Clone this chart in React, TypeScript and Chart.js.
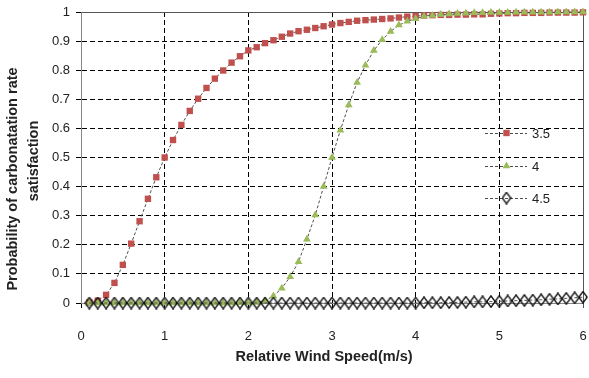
import React, { useEffect, useRef } from 'react';
import { Chart, registerables } from 'chart.js';
Chart.register(...registerables);

const windSpeeds = [
  0.1, 0.2, 0.3, 0.4, 0.5, 0.6, 0.7, 0.8, 0.9, 1.0,
  1.1, 1.2, 1.3, 1.4, 1.5, 1.6, 1.7, 1.8, 1.9, 2.0,
  2.1, 2.2, 2.3, 2.4, 2.5, 2.6, 2.7, 2.8, 2.9, 3.0,
  3.1, 3.2, 3.3, 3.4, 3.5, 3.6, 3.7, 3.8, 3.9, 4.0,
  4.1, 4.2, 4.3, 4.4, 4.5, 4.6, 4.7, 4.8, 4.9, 5.0,
  5.1, 5.2, 5.3, 5.4, 5.5, 5.6, 5.7, 5.8, 5.9, 6.0,
];

const series35 = [
  0.002, 0.008, 0.028, 0.069, 0.131, 0.204, 0.281, 0.358, 0.432, 0.5,
  0.56, 0.612, 0.66, 0.702, 0.739, 0.771, 0.799, 0.826, 0.848, 0.868,
  0.879, 0.893, 0.903, 0.915, 0.926, 0.934, 0.939, 0.945, 0.951, 0.957,
  0.962, 0.966, 0.97, 0.972, 0.974, 0.976, 0.978, 0.981, 0.984, 0.986,
  0.988, 0.989, 0.99, 0.99, 0.991, 0.991, 0.992, 0.992, 0.994, 0.995,
  0.996, 0.996, 0.997, 0.997, 0.997, 0.998, 0.998, 0.998, 0.998, 0.999,
];

const series4 = [
  0, 0, 0, 0, 0, 0, 0, 0, 0, 0,
  0, 0, 0, 0, 0, 0, 0, 0, 0.001, 0.001,
  0.002, 0.008, 0.024, 0.051, 0.09, 0.142, 0.219, 0.302, 0.4, 0.5,
  0.594, 0.68, 0.758, 0.817, 0.868, 0.905, 0.933, 0.955, 0.968, 0.977,
  0.985, 0.988, 0.991, 0.993, 0.995, 0.996, 0.997, 0.997, 0.998, 0.998,
  0.998, 0.999, 0.999, 0.999, 0.999, 0.999, 1.0, 1.0, 1.0, 1.0,
];

const series45 = [
  0, 0, 0, 0, 0, 0, 0, 0, 0, 0,
  0, 0, 0, 0, 0, 0, 0, 0, 0, 0,
  0, 0, 0, 0, 0, 0, 0, 0, 0, 0,
  0, 0, 0, 0, 0, 0, 0, 0, 0, 0,
  0.001, 0.001, 0.001, 0.002, 0.002, 0.003, 0.004, 0.004, 0.005, 0.006,
  0.007, 0.008, 0.009, 0.01, 0.011, 0.013, 0.014, 0.016, 0.018, 0.02,
];

const seriesLabels = ['3.5', '4', '4.5'];
const yTickLabels = ['0', '0.1', '0.2', '0.3', '0.4', '0.5', '0.6', '0.7', '0.8', '0.9', '1'];
const xTickLabels = ['0', '1', '2', '3', '4', '5', '6'];
const xTitle = 'Relative Wind Speed(m/s)';
const yTitleLines = ['Probability of carbonatation rate', 'satisfaction'];

const FONT = '"Liberation Sans", Arial, sans-serif';
const TEXT = '#222222';

function makeDiamond(): HTMLCanvasElement {
  const c = document.createElement('canvas');
  c.width = 10;
  c.height = 13;
  const ctx = c.getContext('2d')!;
  ctx.strokeStyle = '#111111';
  ctx.lineWidth = 1.4;
  ctx.beginPath();
  ctx.moveTo(5, 0.8);
  ctx.lineTo(9.2, 6.5);
  ctx.lineTo(5, 12.2);
  ctx.lineTo(0.8, 6.5);
  ctx.closePath();
  ctx.stroke();
  return c;
}

function drawMarker(ctx: CanvasRenderingContext2D, ds: any, x: number, y: number) {
  const style = ds.pointStyle;
  const r = ds.pointRadius;
  ctx.save();
  if (style instanceof HTMLCanvasElement) {
    ctx.drawImage(style, x - style.width / 2, y - style.height / 2);
  } else if (style === 'rect') {
    const s = Math.SQRT1_2 * r;
    ctx.fillStyle = ds.pointBackgroundColor;
    ctx.fillRect(x - s, y - s, 2 * s, 2 * s);
  } else if (style === 'triangle') {
    ctx.fillStyle = ds.pointBackgroundColor;
    ctx.beginPath();
    ctx.moveTo(x, y - r);
    ctx.lineTo(x + r * Math.sin(Math.PI / 3), y + r * 0.5);
    ctx.lineTo(x - r * Math.sin(Math.PI / 3), y + r * 0.5);
    ctx.closePath();
    ctx.fill();
  }
  ctx.restore();
}

const framePlugin = {
  id: 'frame',
  beforeDatasetsDraw(chart: any) {
    const { ctx, chartArea } = chart;
    ctx.save();
    ctx.strokeStyle = '#555555';
    ctx.lineWidth = 1;
    ctx.setLineDash([]);
    ctx.beginPath();
    ctx.moveTo(Math.round(chartArea.left) + 0.5, Math.round(chartArea.top) + 0.5);
    ctx.lineTo(Math.round(chartArea.right) + 0.5, Math.round(chartArea.top) + 0.5);
    ctx.lineTo(Math.round(chartArea.right) + 0.5, Math.round(chartArea.bottom) + 5);
    ctx.stroke();
    ctx.restore();
  },
};

const textPlugin = {
  id: 'texts',
  afterDraw(chart: any) {
    const { ctx } = chart;
    ctx.save();
    ctx.fillStyle = TEXT;
    ctx.font = 'bold 14.5px ' + FONT;
    ctx.textAlign = 'center';
    ctx.textBaseline = 'middle';
    ctx.fillText(xTitle, 324, 357);
    const yCenters = [[13, 179], [34, 161]];
    yTitleLines.forEach((line, i) => {
      ctx.save();
      ctx.translate(yCenters[i][0], yCenters[i][1]);
      ctx.rotate(-Math.PI / 2);
      ctx.fillText(line, 0, 0);
      ctx.restore();
    });
    // legend
    const rows = [133, 166, 198];
    chart.data.datasets.forEach((ds: any, i: number) => {
      const y = rows[i];
      ctx.save();
      ctx.strokeStyle = ds.borderColor;
      ctx.lineWidth = 1;
      ctx.setLineDash(ds.borderDash || []);
      ctx.beginPath();
      ctx.moveTo(485, y + 0.5);
      ctx.lineTo(527, y + 0.5);
      ctx.stroke();
      ctx.restore();
      drawMarker(ctx, ds, 506.5, y);
      ctx.font = '13px ' + FONT;
      ctx.textAlign = 'left';
      ctx.textBaseline = 'middle';
      ctx.fillStyle = TEXT;
      ctx.fillText(ds.label, 532, y + 1);
    });
    ctx.restore();
  },
};

export default function App() {
  const ref = useRef<HTMLCanvasElement>(null);
  useEffect(() => {
    document.body.style.margin = '0';
    const diamond = makeDiamond();
    const toPts = (arr: number[]) => windSpeeds.map((x, i) => ({ x, y: arr[i] }));
    const lineBase = {
      borderColor: '#4d4d4d',
      borderWidth: 1,
      borderDash: [3, 2],
      tension: 0,
      clip: false as any,
    };
    const chart = new Chart(ref.current!, {
      type: 'line',
      data: {
        datasets: [
          {
            ...lineBase,
            label: seriesLabels[0],
            data: toPts(series35),
            pointStyle: 'rect',
            pointRadius: 4.5,
            pointBackgroundColor: '#C0504D',
            pointBorderColor: '#C0504D',
            pointBorderWidth: 0,
            order: 2,
          },
          {
            ...lineBase,
            label: seriesLabels[1],
            data: toPts(series4),
            pointStyle: 'triangle',
            pointRadius: 4.5,
            pointBackgroundColor: '#9BBB59',
            pointBorderColor: '#9BBB59',
            pointBorderWidth: 0,
            order: 1,
          },
          {
            ...lineBase,
            label: seriesLabels[2],
            data: toPts(series45),
            pointStyle: diamond,
            pointRadius: 5,
            order: 0,
          },
        ] as any,
      },
      options: {
        animation: false,
        responsive: false,
        devicePixelRatio: 1,
        layout: { padding: { left: 0, right: 5, top: 12, bottom: 0 } },
        plugins: { legend: { display: false }, tooltip: { enabled: false } },
        events: [],
        scales: {
          x: {
            type: 'linear',
            min: 0,
            max: 6,
            afterFit: (s: any) => { s.height = 75; s.paddingLeft = 0; s.paddingRight = 0; },
            ticks: {
              stepSize: 1,
              padding: 21,
              maxRotation: 0,
              color: TEXT,
              font: { family: FONT, size: 13 },
              callback: (v: any) => xTickLabels[Math.round(Number(v))] ?? '',
            },
            grid: { color: '#000000', lineWidth: 1, tickLength: 5, tickColor: '#000000' },
            border: { color: '#868686', width: 1, dash: [5, 3] },
          },
          y: {
            type: 'linear',
            min: 0,
            max: 1,
            afterFit: (s: any) => { s.width = 81; s.paddingTop = 0; s.paddingBottom = 0; },
            ticks: {
              stepSize: 0.1,
              padding: 6,
              color: TEXT,
              font: { family: FONT, size: 13 },
              callback: (v: any) => yTickLabels[Math.round(Number(v) * 10)] ?? '',
            },
            grid: { color: '#000000', lineWidth: 1, tickLength: 5, tickColor: '#000000' },
            border: { color: '#868686', width: 1, dash: [5, 3] },
          },
        },
      } as any,
      plugins: [framePlugin, textPlugin],
    });
    return () => chart.destroy();
  }, []);
  return (
    <div style={{ width: 589, height: 378, background: '#ffffff' }}>
      <canvas ref={ref} width={589} height={378} style={{ display: 'block' }} />
    </div>
  );
}
